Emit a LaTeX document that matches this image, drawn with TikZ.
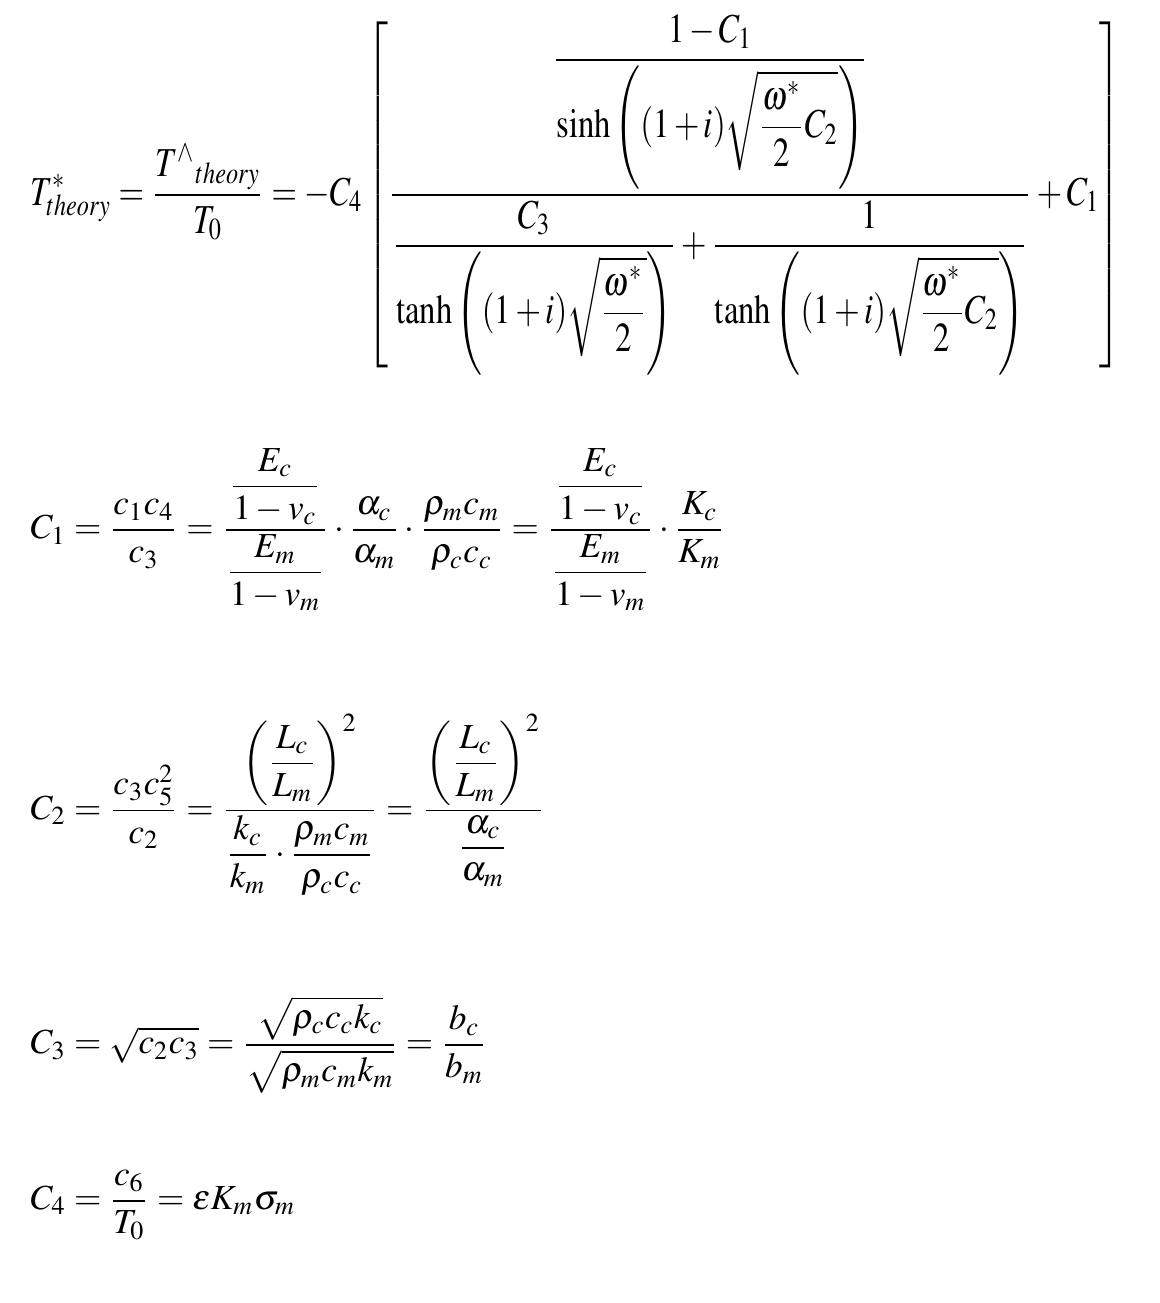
\documentclass[tikz,border=0pt]{standalone}
\usepackage{amsmath}
\usepackage{mathptmx}
\begin{document}
\begin{tikzpicture}[x=0.01cm,y=-0.01cm,
  eq/.style={anchor=west, inner sep=0pt, scale=1.0, transform shape}]
\useasboundingbox (0,0) rectangle (1159,1303);
\node[eq, xscale=0.93, yscale=1.17] (theory) at (30,195) {$\displaystyle T^*_{theory}=\frac{T^\wedge{}_{theory}}{T_0}=-C_4\left[\frac{\dfrac{1-C_1}{\sinh\left((1+i)\sqrt{\dfrac{\omega^*}{2}C_2}\right)}}{\dfrac{C_3}{\tanh\left((1+i)\sqrt{\dfrac{\omega^*}{2}}\right)}+\dfrac{1}{\tanh\left((1+i)\sqrt{\dfrac{\omega^*}{2}C_2}\right)}}+C_1\right]$};
\node[eq] (cone) at (30,530) {$\displaystyle C_1=\frac{c_1c_4}{c_3}=\frac{\dfrac{E_c}{1-v_c}}{\dfrac{E_m}{1-v_m}}\cdot\frac{\alpha_c}{\alpha_m}\cdot\frac{\rho_mc_m}{\rho_cc_c}=\frac{\dfrac{E_c}{1-v_c}}{\dfrac{E_m}{1-v_m}}\cdot\frac{K_c}{K_m}$};
\node[eq] (ctwo) at (30,805) {$\displaystyle C_2=\frac{c_3c_5^2}{c_2}=\frac{\left(\dfrac{L_c}{L_m}\right)^2}{\dfrac{k_c}{k_m}\cdot\dfrac{\rho_mc_m}{\rho_cc_c}}=\frac{\left(\dfrac{L_c}{L_m}\right)^2}{\dfrac{\alpha_c}{\alpha_m}}$};
\node[eq] (cthree) at (30,1045) {$\displaystyle C_3=\sqrt{c_2c_3}=\frac{\sqrt{\rho_cc_ck_c}}{\sqrt{\rho_mc_mk_m}}=\frac{b_c}{b_m}$};
\node[eq] (cfour) at (30,1205) {$\displaystyle C_4=\frac{c_6}{T_0}=\varepsilon K_m\sigma_m$};
\end{tikzpicture}
\end{document}
